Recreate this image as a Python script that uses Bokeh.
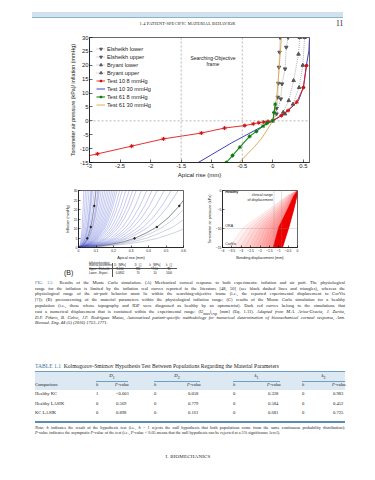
from bokeh.plotting import figure
from bokeh.layouts import column, row
from bokeh.models import Div, Span, Label, Legend, LegendItem, FixedTicker
from bokeh.embed import file_html
from bokeh.resources import INLINE

SANS = "Liberation Sans"
SERIF = "Liberation Serif"

# ---------------- Panel A data ----------------
els_lower_x = [0, 0.06, 0.13, 0.15, 0.20, 0.22, 0.25]
els_lower_y = [0, 2.5, 7.9, 13.3, 18.7, 26.5, 30]
els_upper_x = [0, 0.03, 0.06, 0.08, 0.09, 0.10, 0.11, 0.12]
els_upper_y = [0, 1.5, 4.5, 8.5, 13.5, 19.3, 24.7, 30]
bry_lower_x = [0, 0.20, 0.33, 0.43, 0.49, 0.52]
bry_lower_y = [0, 2.5, 6.0, 12.0, 20.0, 30]
bry_upper_x = [0, 0.17, 0.26, 0.34, 0.42, 0.44]
bry_upper_y = [0, 3.1, 7.3, 14.5, 24.0, 30]
t10_8_x = [-3.0, -2.87, -2.31, -1.79, -1.17, -0.79, -0.46, -0.32, -0.23, -0.15, -0.08, 0, 0.14, 0.25, 0.39, 0.50, 0.55]
t10_8_y = [-12.5, -11.9, -9.1, -6.5, -4.4, -2.6, -1.7, -1.1, -0.7, -0.45, -0.2, 0, 1.9, 3.7, 6.7, 12.0, 19.9]
t10_30_x = [-1.22, -0.68, -0.30, 0, 0.11, 0.25, 0.42, 0.50, 0.55, 0.59, 0.60]
t10_30_y = [-15.0, -8.0, -3.5, 0, 1.5, 3.7, 7.3, 12.0, 19.9, 25.3, 30]
t61_8_x = [-0.76, -0.66, -0.54, -0.38, -0.27, -0.16, -0.10, 0, 0.02, 0.04]
t61_8_y = [-15.0, -12.5, -9.5, -5.6, -3.8, -1.9, -0.9, 0, 3.0, 6.0]
t61_30_x = [-0.55, -0.42, -0.30, -0.19, -0.10, 0, 0.04, 0.07, 0.10, 0.12, 0.14]
t61_30_y = [-15.0, -12.0, -9.3, -6.5, -3.5, 0, 5.0, 10.0, 18.0, 24.0, 30]
legend_labels = ["Elsheikh lower", "Elsheikh upper", "Bryant lower", "Bryant upper",
                 "Test 10 8 mmHg", "Test 10 30 mmHg", "Test 61 8 mmHg", "Test 61 30 mmHg"]
a_xticks = [-3, -2.5, -2, -1.5, -1, -0.5, 0, 0.5]
a_xtick_labels = ["-3", "-2.5", "-2", "-1.5", "-1", "-0.5", "0", "0.5"]
a_yticks = [-15, -10, -5, 0, 5, 10, 15, 20, 25, 30]
a_ytick_labels = ["-15", "-10", "-5", "0", "5", "10", "15", "20", "25", "30"]
frame_lines_x = [-1.5, -0.5]

# ---------------- Panel B data ----------------
b_top_x = [0.03, 0.04, 0.05, 0.06, 0.07, 0.075, 0.08, 0.09, 0.10, 0.11, 0.115, 0.12, 0.13, 0.14,
           0.15, 0.16, 0.17, 0.18, 0.19, 0.20, 0.21, 0.22, 0.235, 0.25, 0.27, 0.29, 0.31, 0.33,
           0.36, 0.39, 0.42, 0.45, 0.49, 0.53, 0.57]
b_gray_top_x = [0.64, 0.69, 0.77, 0.90]
b_bound_top_x = [0.10, 0.64]
b_prof_d = [0, 0.1, 0.2, 0.3, 0.4, 0.5, 0.6, 0.7, 0.8, 0.9, 1.0]
b_prof_p = [0, 0.01, 0.03, 0.06, 0.10, 0.16, 0.25, 0.36, 0.52, 0.73, 1.0]
b_xticks = [0, 0.1, 0.2, 0.3, 0.4, 0.5, 0.6]
b_yticks = [0, 5, 10, 15, 20, 25, 30]

# ---------------- Panel C data ----------------
c_end_x = [-3.7, -3.4, -3.1, -2.85, -2.6, -2.4, -2.2, -2.0, -1.85, -1.7, -1.55, -1.42, -1.32]
c_prof_y = [0, -1.4, -5.1, -9.6, -14.5, -15]
c_prof_f = [0, 0.15, 0.42, 0.77, 0.97, 1.0]
c_dark_left_x = [0, -0.20, -0.55, -1.00, -1.27, -1.30]
c_dark_right_x = [0, -0.02, -0.20, -0.45, -0.76, -0.80]
c_xticks = [-4, -3.5, -3, -2.5, -2, -1.5, -1, -0.5, 0]
c_yticks = [-15, -10, -5, 0]
c_clin_x = [-1.25, -0.85]

# ---------------- Text data ----------------
b_tab_cols = ["D<sub>1</sub> [MPa]", "D<sub>2</sub> [-]", "k<sub>1</sub> [MPa]", "k<sub>2</sub> [-]"]
b_tab_rows = ["Upper - Elsheikh -", "Lower - Bryant -"]
b_tab_vals = [["0.400", "144", "7.50", "16"], ["0.0862", "70", "10", "1000"]]

caption_lines = [
    "Results of the Monte Carlo simulation. (A) Mechanical corneal response to both experiments: inflation and air puff. The physiological",
    "range for the inflation is limited by the inflation real curves reported in the literature [48, 50] (see black dashed lines and triangles), whereas the",
    "physiological range of the air-puff behavior must lie within the searching-objective frame (i.e., the reported experimental displacement to CorVis",
    "[?]); (B) preconcerning of the material parameters within the physiological inflation range; (C) results of the Monte Carlo simulation for a healthy",
    "population (i.e., those whose topography and IOP were diagnosed as healthy by an optometrist). Dark red curves belong to the simulations that",
    "cast a numerical displacement that is contained within the experimental range: (U<sub>max</sub>)<sub>exp</sub> [mm] (Eq. 1.11). <i>Adapted from M.&Aacute;. Ariza-Gracia, J. Zurita,</i>",
    "<i>D.P. Pi&ntilde;ero, B. Calvo, J.F. Rodr&iacute;guez Matas, Automatized patient-specific methodology for numerical determination of biomechanical corneal response, Ann.</i>",
    "<i>Biomed. Eng. 44 (5) (2016) 1753&ndash;1771.</i>",
]
table_title = "Kolmogorov-Smirnov Hypothesis Test Between Populations Regarding the Material Parameters"
t_groups = ["<i>D</i><sub>1</sub>", "<i>D</i><sub>2</sub>", "<i>k</i><sub>1</sub>", "<i>k</i><sub>2</sub>"]
t_rows = ["Healthy KC", "Healthy LASIK", "KC LASIK"]
t_h = [["1", "0", "0", "0"], ["0", "0", "0", "0"], ["0", "0", "0", "0"]]
t_p = [["&lt;0.001", "0.058", "0.328", "0.983"],
       ["0.569", "0.779", "0.584", "0.452"],
       ["0.898", "0.161", "0.681", "0.725"]]
note_lines = [
    "<i>Note: h</i> indicates the result of the hypothesis test (i.e., <i>h</i> = 1 rejects the null hypothesis that both populations come from the same continuous probability distribution);",
    "<i>P</i>-value indicates the asymptotic <i>P</i>-value of the test (i.e., <i>P</i>-value &lt; 0.05 means that the null hypothesis can be rejected at a 5% significance level).",
]


def style(p, fs, lfs, tick_in=3):
    for ax in (p.xaxis[0], p.yaxis[0]):
        ax.major_label_text_font = SANS
        ax.major_label_text_font_size = fs
        ax.major_label_text_color = "#222222"
        ax.axis_label_text_font = SANS
        ax.axis_label_text_font_size = lfs
        ax.axis_label_text_font_style = "normal"
        ax.axis_label_text_color = "#222222"
        ax.major_tick_in = tick_in
        ax.major_tick_out = 0
        ax.minor_tick_in = 0
        ax.minor_tick_out = 0
        ax.major_label_standoff = 1
        ax.axis_label_standoff = 1
        ax.axis_line_width = 0.6
        ax.major_tick_line_width = 0.6
    p.grid.visible = False
    p.outline_line_color = "black"
    p.outline_line_width = 0.6
    p.outline_line_alpha = 1
    p.background_fill_color = "white"
    p.border_fill_color = "white"


# ================= Figure A =================
pA = figure(width=375, height=150, x_range=(-3, 0.6), y_range=(-15, 30),
            output_backend="svg", toolbar_location=None,
            min_border_left=89, min_border_right=66, min_border_top=7, min_border_bottom=18)
style(pA, "5.8px", "6px")
pA.xaxis[0].ticker = FixedTicker(ticks=a_xticks)
pA.xaxis[0].major_label_overrides = dict(zip(a_xticks, a_xtick_labels))
pA.yaxis[0].ticker = FixedTicker(ticks=a_yticks)
pA.yaxis[0].major_label_overrides = dict(zip(a_yticks, a_ytick_labels))
pA.xaxis[0].axis_label = "Apical rise (mm)"
pA.yaxis[0].axis_label = "Tonometer air pressure (kPa)/ inflation (mmHg)"
pA.yaxis[0].axis_label_text_font_size = "5.4px"

for xv in frame_lines_x:
    pA.add_layout(Span(location=xv, dimension="height", line_color="#888888",
                       line_dash="2 2", line_width=0.6))
pA.add_layout(Span(location=0, dimension="width", line_color="#888888",
                   line_dash="2 2", line_width=0.6))

GRAY = "#9a9a9a"
r = {}
r[0] = [pA.line(els_lower_x, els_lower_y, line_color=GRAY, line_dash="1 1", line_width=0.8),
        pA.scatter(els_lower_x[1:], els_lower_y[1:], marker="inverted_triangle", size=3.5,
                   fill_color="#555555", line_color="#555555")]
r[1] = [pA.line(els_upper_x, els_upper_y, line_color=GRAY, line_dash="1 1", line_width=0.8),
        pA.scatter(els_upper_x[2:], els_upper_y[2:], marker="inverted_triangle", size=3.5,
                   fill_color="#555555", line_color="#555555")]
r[2] = [pA.line(bry_lower_x, bry_lower_y, line_color=GRAY, line_dash="1 1", line_width=0.8),
        pA.scatter(bry_lower_x[1:], bry_lower_y[1:], marker="triangle", size=3.5,
                   fill_color="#555555", line_color="#555555")]
r[3] = [pA.line(bry_upper_x, bry_upper_y, line_color=GRAY, line_dash="1 1", line_width=0.8),
        pA.scatter(bry_upper_x[1:], bry_upper_y[1:], marker="triangle", size=3.5,
                   fill_color="#555555", line_color="#555555")]
r[5] = [pA.line(t10_30_x, t10_30_y, line_color="#2b2bb8", line_width=0.9)]
r[4] = [pA.line(t10_8_x, t10_8_y, line_color="#e01818", line_width=0.9),
        pA.scatter(t10_8_x[1:], t10_8_y[1:], marker="asterisk", size=4,
                   line_color="#d01010", line_width=1)]
r[7] = [pA.line(t61_30_x, t61_30_y, line_color="#e0a050", line_width=0.9)]
r[6] = [pA.line(t61_8_x, t61_8_y, line_color="#108a10", line_width=1.1),
        pA.scatter(t61_8_x, t61_8_y, marker="asterisk", size=4,
                   line_color="#0a7a0a", line_width=1)]

items = [LegendItem(label=legend_labels[i], renderers=r[i]) for i in range(8)]
leg = Legend(items=items, location=(7, 54), margin=0, padding=2,
             label_text_font=SANS, label_text_font_size="5.6px", label_text_color="#222222",
             glyph_height=7, glyph_width=9, label_height=7, spacing=1, label_standoff=2,
             border_line_color=None, background_fill_alpha=0)
pA.add_layout(leg)

pA.add_layout(Label(x=-0.98, y=22.6, text="Searching-Objective", text_font=SANS,
                    text_font_size="5px", text_align="center", text_baseline="middle",
                    text_color="#222222"))
pA.add_layout(Label(x=-0.98, y=20.4, text="frame", text_font=SANS,
                    text_font_size="5px", text_align="center", text_baseline="middle",
                    text_color="#222222"))
pA.add_layout(Label(x=-3.82, y=-18.5, text="(A)", text_font=SANS,
                    text_font_size="7px", text_align="left", text_baseline="middle",
                    text_color="#222222"))

# ================= Figure B =================
pB = figure(width=200, height=82, x_range=(0, 0.6), y_range=(0, 30),
            output_backend="svg", toolbar_location=None,
            min_border_left=78, min_border_right=17, min_border_top=10, min_border_bottom=14)
style(pB, "3.4px", "3.8px", tick_in=2)
pB.xaxis[0].ticker = FixedTicker(ticks=b_xticks)
pB.yaxis[0].ticker = FixedTicker(ticks=b_yticks)
pB.xaxis[0].axis_label = "Apical rise (mm)"
pB.yaxis[0].axis_label = "Inflation (mmHg)"
bx = [[t * d for d in b_prof_d] for t in b_top_x]
by = [[30 * q for q in b_prof_p] for _ in b_top_x]
pB.multi_line(bx, by, line_color="#2f3fc8", line_alpha=0.55, line_width=0.5)
gx = [[t * d for d in b_prof_d] for t in b_gray_top_x]
gy = [[30 * q for q in b_prof_p] for _ in b_gray_top_x]
pB.multi_line(gx, gy, line_color="#8890b8", line_alpha=0.8, line_width=0.5)
for t in b_bound_top_x:
    xs = [t * d for d in b_prof_d]
    ys = [30 * q for q in b_prof_p]
    pB.line(xs, ys, line_color="#555555", line_width=0.5)
    pB.scatter(xs[5::2], ys[5::2], marker="circle", size=1.6, fill_color="#222222",
               line_color="#222222")

# ================= Figure C =================
pC = figure(width=175, height=82, x_range=(-4, 0), y_range=(-15, 0),
            output_backend="svg", toolbar_location=None,
            min_border_left=22, min_border_right=78, min_border_top=9, min_border_bottom=13)
style(pC, "3.4px", "3.8px", tick_in=2)
pC.xaxis[0].ticker = FixedTicker(ticks=c_xticks)
pC.yaxis[0].ticker = FixedTicker(ticks=c_yticks)
pC.xaxis[0].axis_label = "Bending displacement (mm)"
pC.yaxis[0].axis_label = "Tonometer air pressure (kPa)"
for e in c_end_x:
    xs = [e * f for f in c_prof_f]
    pC.patch(xs + c_dark_right_x[::-1], c_prof_y + c_prof_y[::-1],
             fill_color="#ff3030", fill_alpha=0.06, line_color=None)
pC.multi_line([[e * f for f in c_prof_f] for e in c_end_x], [c_prof_y for _ in c_end_x],
              line_color="#f06060", line_alpha=0.25, line_width=0.6)
pC.patch(c_dark_left_x + c_dark_right_x[::-1], c_prof_y + c_prof_y[::-1],
         fill_color="#ee0000", line_color="#dd0000", line_width=0.4)
for xv in c_clin_x:
    pC.add_layout(Span(location=xv, dimension="height", line_color="#888888",
                       line_dash="1 1", line_width=0.5))
pC.add_layout(Span(location=-10, dimension="width", line_color="#888888",
                   line_dash="1 1", line_width=0.5))
for (tx, ty, tt, al, st) in [(-3.85, -0.5, "Healthy", "left", "bold"),
                             (-1.32, -1.3, "clinical range", "right", "normal"),
                             (-1.32, -2.5, "of displacement", "right", "normal"),
                             (-3.85, -9.3, "ORA", "left", "normal"),
                             (-3.85, -14.2, "CorVis", "left", "normal")]:
    pC.add_layout(Label(x=tx, y=ty, text=tt, text_font=SANS, text_font_size="3.6px",
                        text_font_style=st, text_align=al, text_baseline="middle",
                        text_color="#222222"))
pC.add_layout(Label(x=-4.75, y=-16.9, text="(C)", text_font=SANS, text_font_size="7px",
                    text_align="left", text_baseline="middle", text_color="#222222"))


# ================= HTML text blocks =================
def t(left, cy, size, content, width=None, align="left", extra=""):
    w = f"width:{width}px;" if width else ""
    top = cy - size * 0.62
    return (f'<div style="position:absolute;left:{left}px;top:{top:.2f}px;{w}'
            f'font-size:{size}px;line-height:{size * 1.2:.2f}px;text-align:{align};'
            f'white-space:nowrap;{extra}">{content}</div>')


def rect(left, top, w, h, color):
    return (f'<div style="position:absolute;left:{left}px;top:{top}px;width:{w}px;'
            f'height:{h}px;background:{color};"></div>')


head = [f'<div style="position:relative;width:375px;height:30px;font-family:\'{SERIF}\';color:#222;">',
        rect(32, 12, 311, 4.5, "#cfe2ee"), rect(32, 16.5, 311, 0.8, "#8ab3cc"),
        t(0, 23.8, 4.4, "1.4 PATIENT-SPECIFIC MATERIAL BEHAVIOR", width=375, align="center",
          extra="letter-spacing:0.15px;"),
        t(336, 24, 7.5, "11"),
        "</div>"]
head_div = Div(text="".join(head), width=375, height=30, margin=(0, 0, 0, 0))

O = 262  # top of lower block in page pixels
parts = [f'<div style="position:relative;width:375px;height:218px;font-family:\'{SERIF}\';color:#222;">']
# Panel B parameter table
parts.append(t(89, 263.4 - O, 2.6, "Inflation boundary", extra=f"font-family:'{SANS}';"))
parts.append(t(89, 266.0 - O, 2.6, "Material parameters", extra=f"font-family:'{SANS}';"))
bcx = [120, 138, 155, 169]
for cx, c in zip(bcx, b_tab_cols):
    parts.append(t(cx - 10, 265.5 - O, 2.8, c, width=20, align="center", extra=f"font-family:'{SANS}';"))
parts.append(rect(89, 267.6 - O, 88, 0.4, "#555"))
parts.append(rect(112, 262.5 - O, 0.4, 14, "#555"))
for ri, (lab, vals) in enumerate(zip(b_tab_rows, b_tab_vals)):
    cy = 269.8 + ri * 4.4 - O
    parts.append(t(89, cy, 2.8, lab, extra=f"font-family:'{SANS}';"))
    for cx, v in zip(bcx, vals):
        parts.append(t(cx - 10, cy, 2.8, v, width=20, align="center", extra=f"font-family:'{SANS}';"))
parts.append(t(64, 273 - O, 7, "(B)", extra=f"font-family:'{SANS}';"))

# Caption
for i, line in enumerate(caption_lines):
    cy = 282.7 + 5.8 * i - O
    if i == 0:
        content = '<span style="color:#3d6f9a;">FIG. 1.5</span>&nbsp;&nbsp;' + line
    else:
        content = line
    extra = "text-align-last:justify;" if i < len(caption_lines) - 1 else ""
    parts.append(t(35, cy, 4.55, content, width=310, align="justify" if extra else "left", extra=extra))

# Table
parts.append(t(35, 366.7 - O, 5.6, '<span style="color:#3d6f9a;">TABLE 1.1</span>&nbsp;&nbsp;' + table_title))
parts.append(rect(35, 371 - O, 310, 19, "#dce9f3"))
parts.append(rect(35, 370.6 - O, 310, 0.6, "#6f9fc2"))
h_left = [96, 154, 233, 302]
p_left = [115, 187, 267, 332]
g_span = [(96, 128), (154, 200), (233, 280), (302, 345)]
for (a, b), g in zip(g_span, t_groups):
    parts.append(t(a, 376.3 - O, 4.8, g, width=b - a, align="center"))
    parts.append(rect(a, 380.6 - O, b - a, 0.5, "#6f9fc2"))
parts.append(t(35, 385.2 - O, 4.6, "Comparison"))
for hl, pl in zip(h_left, p_left):
    parts.append(t(hl, 385.2 - O, 4.6, "<i>h</i>"))
    parts.append(t(pl, 385.2 - O, 4.6, "<i>P</i>-value"))
for ri, name in enumerate(t_rows):
    cy = 394.2 + ri * 9.4 - O
    parts.append(t(35, cy, 4.6, name))
    for ci in range(4):
        parts.append(t(h_left[ci], cy, 4.6, t_h[ri][ci]))
        parts.append(t(p_left[ci] + 1, cy, 4.6, t_p[ri][ci]))
parts.append(rect(35, 421 - O, 310, 1.6, "#5a8cb2"))
parts.append(t(35, 427.2 - O, 4.2, note_lines[0], width=310, align="justify",
               extra="text-align-last:justify;"))
parts.append(t(35, 433.0 - O, 4.2, note_lines[1]))
parts.append(t(0, 457.2 - O, 5.0, "I. BIOMECHANICS", width=376, align="center",
               extra="letter-spacing:0.2px;"))
parts.append("</div>")
low_div = Div(text="".join(parts), width=375, height=218, margin=(0, 0, 0, 0))

layout = column(head_div, pA, row(pB, pC, spacing=0), low_div, spacing=0)
html = file_html(layout, INLINE, title="Fig 1.5")
html = html.replace("<body>", '<body style="margin:0;background:white;">')
open("out.html", "w").write(html)
